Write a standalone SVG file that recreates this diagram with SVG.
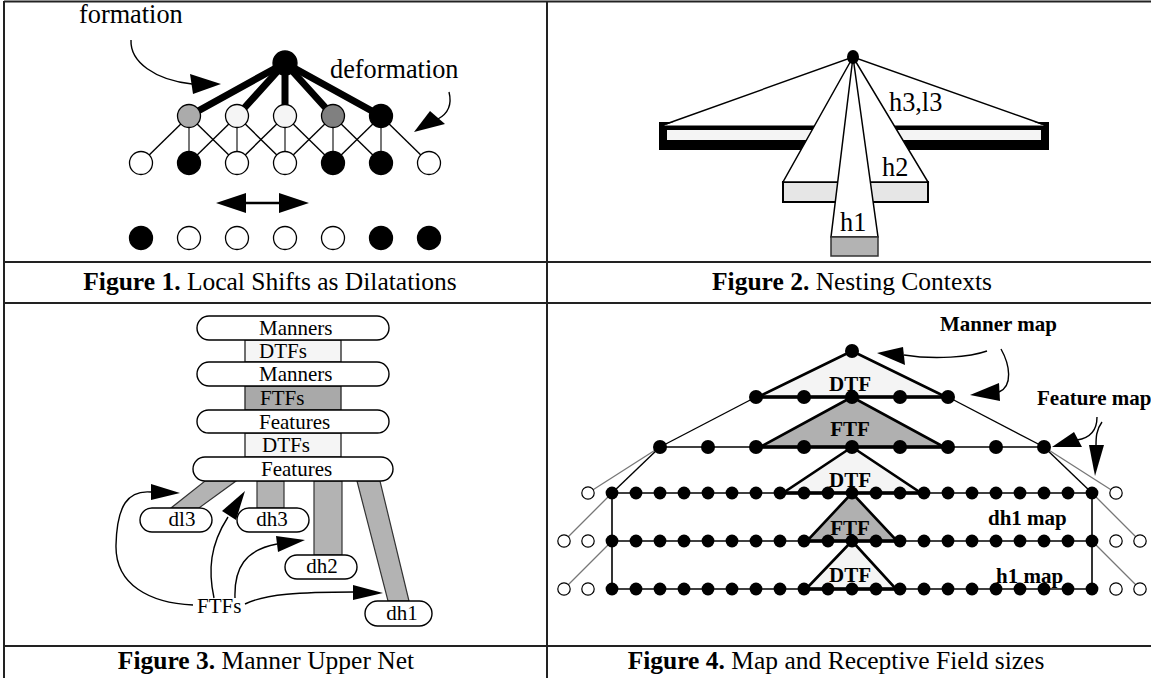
<svg xmlns="http://www.w3.org/2000/svg" xmlns:xlink="http://www.w3.org/1999/xlink" width="1151" height="678" viewBox="0 0 1151 678">
  <style>
    .t { font-family: "Liberation Serif", "Times New Roman", serif; fill: #000; }
    .cap { font-size: 25.5px; }
    .lbl { font-size: 26.3px; }
    .sm { font-size: 21px; }
    .bl { font-size: 21px; font-weight: bold; }
    .b { font-weight: bold; }
    .grid { stroke: #222; stroke-width: 2; fill: none; }
    .thin { stroke: #000; stroke-width: 1.4; fill: none; }
    .gthin { stroke: #777; stroke-width: 1.3; fill: none; }
    .thick { stroke: #000; stroke-width: 7; stroke-linecap: round; }
    .node { stroke: #000; stroke-width: 1.3; }
    .pill { fill: #fff; stroke: #000; stroke-width: 1.4; }
    .bar { fill: #b3b3b3; stroke: #333; stroke-width: 1.2; }
    .head { fill: #000; }
    .tri { stroke: #000; stroke-width: 2.6; stroke-linejoin: miter; }
    .base { stroke: #000; stroke-width: 3.5; }
    .row { stroke: #000; stroke-width: 1.6; }
  </style>
  <defs>
    <circle id="dot" r="7" fill="#000"/>
    <circle id="dot2" r="6.4" fill="#000"/>
    <circle id="hol" r="6.2" fill="#fff" stroke="#000" stroke-width="1.2"/>
  </defs>

  <rect width="1151" height="678" fill="#fff"/>

  <!-- table rules -->
  <g id="table" class="grid">
    <line x1="4" y1="1.5" x2="1151" y2="1.5"/>
    <line x1="4" y1="1" x2="4" y2="678"/>
    <line x1="547" y1="1" x2="547" y2="678"/>
    <line x1="4" y1="262" x2="1151" y2="262"/>
    <line x1="4" y1="303" x2="1151" y2="303"/>
    <line x1="4" y1="646" x2="1151" y2="646"/>
  </g>

  <!-- captions -->
  <g id="captions" class="t cap" text-anchor="middle">
    <text x="270" y="290"><tspan class="b">Figure 1.</tspan> Local Shifts as Dilatations</text>
    <text x="852" y="290"><tspan class="b">Figure 2.</tspan> Nesting Contexts</text>
    <text x="266" y="669"><tspan class="b">Figure 3.</tspan> Manner Upper Net</text>
    <text x="836" y="669"><tspan class="b">Figure 4.</tspan> Map and Receptive Field sizes</text>
  </g>

  <!-- ============ Figure 1 ============ -->
  <g id="fig1">
    <g id="fig1-connectors">
      <g class="thin">
        <line x1="189" y1="116" x2="141" y2="163"/>
        <line x1="189" y1="116" x2="237" y2="163"/>
        <line x1="237" y1="116" x2="189" y2="163"/>
        <line x1="237" y1="116" x2="285" y2="163"/>
        <line x1="285" y1="116" x2="237" y2="163"/>
        <line x1="285" y1="116" x2="333" y2="163"/>
        <line x1="333" y1="116" x2="285" y2="163"/>
        <line x1="333" y1="116" x2="381" y2="163"/>
        <line x1="381" y1="116" x2="333" y2="163"/>
        <line x1="381" y1="116" x2="429" y2="163"/>
      </g>
      <g stroke="#555" stroke-width="1.6">
        <line x1="189" y1="116" x2="189" y2="163"/>
        <line x1="237" y1="116" x2="237" y2="163"/>
        <line x1="285" y1="116" x2="285" y2="163"/>
        <line x1="333" y1="116" x2="333" y2="163"/>
        <line x1="381" y1="116" x2="381" y2="163"/>
      </g>
      <g class="thick">
        <line x1="285" y1="63" x2="189" y2="116"/>
        <line x1="285" y1="63" x2="237" y2="116"/>
        <line x1="285" y1="63" x2="285" y2="116"/>
        <line x1="285" y1="63" x2="333" y2="116"/>
        <line x1="285" y1="63" x2="381" y2="116"/>
      </g>
      <!-- formation / deformation arrows -->
      <path class="thin" d="M131,40 C130,62 155,80 192,84"/>
      <polygon class="head" points="190,74 193,94 221,84"/>
      <path class="thin" d="M449,92 C452,104 449,113 438,119"/>
      <polygon class="head" points="430,111 445,124 414,132"/>
      <!-- shift arrow -->
      <line x1="244" y1="203" x2="281" y2="203" stroke="#000" stroke-width="2.5"/>
      <polygon class="head" points="216,203 246,193 246,213"/>
      <polygon class="head" points="309,203 279,193 279,213"/>
    </g>
    <g id="f1-top"><circle class="node" cx="285" cy="63" r="12" fill="#000"/></g>
    <g id="f1-mid">
      <circle class="node" cx="189" cy="116" r="11.5" fill="#ababab"/>
      <circle class="node" cx="237" cy="116" r="11.5" fill="#f5f5f5"/>
      <circle class="node" cx="285" cy="116" r="11.5" fill="#f5f5f5"/>
      <circle class="node" cx="333" cy="116" r="11.5" fill="#808080"/>
      <circle class="node" cx="381" cy="116" r="11.5" fill="#000"/>
    </g>
    <g id="f1-low">
      <circle class="node" cx="141" cy="163" r="11.5" fill="#fff"/>
      <circle class="node" cx="189" cy="163" r="11.5" fill="#000"/>
      <circle class="node" cx="237" cy="163" r="11.5" fill="#fff"/>
      <circle class="node" cx="285" cy="163" r="11.5" fill="#fff"/>
      <circle class="node" cx="333" cy="163" r="11.5" fill="#000"/>
      <circle class="node" cx="381" cy="163" r="11.5" fill="#000"/>
      <circle class="node" cx="429" cy="163" r="11.5" fill="#fff"/>
    </g>
    <g id="f1-shifted">
      <circle class="node" cx="141" cy="238" r="11.5" fill="#000"/>
      <circle class="node" cx="189" cy="238" r="11.5" fill="#fff"/>
      <circle class="node" cx="237" cy="238" r="11.5" fill="#fff"/>
      <circle class="node" cx="285" cy="238" r="11.5" fill="#fff"/>
      <circle class="node" cx="333" cy="238" r="11.5" fill="#fff"/>
      <circle class="node" cx="381" cy="238" r="11.5" fill="#000"/>
      <circle class="node" cx="429" cy="238" r="11.5" fill="#000"/>
    </g>
    <text class="t lbl" x="79" y="23">formation</text>
    <text class="t lbl" x="330" y="78">deformation</text>
  </g>

  <!-- ============ Figure 2 ============ -->
  <g id="fig2">
    <g id="ctx-h3">
      <rect x="659" y="122" width="390" height="28" fill="#000"/>
      <rect x="667" y="130" width="374" height="10" fill="#f4f4f4"/>
      <polygon points="853,57 664,125.5 1044,125.5" fill="#fff"/>
      <polyline points="666,124 853,57 1042,124" class="thin" stroke-width="1.5"/>
    </g>
    <g id="ctx-h2">
      <rect x="783" y="182" width="145" height="20" fill="#e6e6e6" stroke="#000" stroke-width="2"/>
      <polygon points="853,57 783,182 928,182" fill="#fff" stroke="#000" stroke-width="1.5"/>
    </g>
    <g id="ctx-h1">
      <polygon points="853,57 831,237 878,237" fill="#fff" stroke="#000" stroke-width="1.5"/>
      <rect x="831" y="237" width="47" height="19" fill="#b3b3b3" stroke="#333" stroke-width="1.5"/>
    </g>
    <ellipse cx="853" cy="57" rx="6" ry="7" fill="#000"/>
    <text class="t lbl" x="889" y="111">h3,l3</text>
    <text class="t lbl" x="882" y="176">h2</text>
    <text class="t lbl" x="840" y="231">h1</text>
  </g>

  <!-- ============ Figure 3 ============ -->
  <g id="fig3">
    <g id="fig3-connectors">
      <polygon class="bar" points="205,481 236,481 199,508 171,508"/>
      <rect class="bar" x="257" y="481" width="27" height="27"/>
      <rect class="bar" x="314" y="481" width="28" height="74"/>
      <polygon class="bar" points="357,481 380,481 409,601 388,601"/>
      <path class="thin" d="M193,605 C150,603 115,585 116,545 C117,505 128,490 151,492"/>
      <polygon class="head" points="151,484 151,500 180,493"/>
      <path class="thin" d="M214,598 C208,570 210,545 228,517"/>
      <polygon class="head" points="222,511 236,520 245,491"/>
      <path class="thin" d="M235,598 C234,568 245,550 277,544"/>
      <polygon class="head" points="276,536 278,552 305,540"/>
      <path class="thin" d="M245,604 C265,594 300,592 354,592"/>
      <polygon class="head" points="353,585 353,600 383,593"/>
    </g>
    <g id="n-dtf1"><rect x="245" y="340" width="96" height="22" fill="#f5f5f5" stroke="#333" stroke-width="1.4"/><text class="t sm" x="259" y="358">DTFs</text></g>
    <g id="n-ftf"><rect x="245" y="386" width="96" height="24" fill="#a9a9a9" stroke="#333" stroke-width="1.4"/><text class="t sm" x="260" y="405">FTFs</text></g>
    <g id="n-dtf2"><rect x="245" y="433" width="96" height="24" fill="#f5f5f5" stroke="#333" stroke-width="1.4"/><text class="t sm" x="262" y="452">DTFs</text></g>
    <g id="n-man1"><rect class="pill" x="197" y="316" width="192" height="24" rx="12"/><text class="t sm" x="259" y="335">Manners</text></g>
    <g id="n-man2"><rect class="pill" x="197" y="362" width="192" height="24" rx="12"/><text class="t sm" x="259" y="381">Manners</text></g>
    <g id="n-feat1"><rect class="pill" x="197" y="410" width="192" height="23" rx="11.5"/><text class="t sm" x="259" y="429">Features</text></g>
    <g id="n-feat2"><rect class="pill" x="193" y="457" width="200" height="24" rx="12"/><text class="t sm" x="261" y="476">Features</text></g>
    <g id="n-dl3"><rect class="pill" x="140" y="508" width="72" height="24" rx="12"/><text class="t sm" x="182" y="526" text-anchor="middle">dl3</text></g>
    <g id="n-dh3"><rect class="pill" x="237" y="508" width="72" height="24" rx="12"/><text class="t sm" x="272" y="526" text-anchor="middle">dh3</text></g>
    <g id="n-dh2"><rect class="pill" x="285" y="555" width="72" height="24" rx="12"/><text class="t sm" x="322" y="573" text-anchor="middle">dh2</text></g>
    <g id="n-dh1"><rect class="pill" x="365" y="601" width="67" height="25" rx="12.5"/><text class="t sm" x="402" y="620" text-anchor="middle">dh1</text></g>
    <g id="n-ftfs"><text class="t sm" x="197" y="613">FTFs</text></g>
  </g>

  <!-- ============ Figure 4 ============ -->
  <g id="fig4">
    <g id="fig4-connectors">
      <!-- outer slopes -->
      <line class="thin" x1="756" y1="397" x2="660" y2="447"/>
      <line class="thin" x1="948" y1="397" x2="1044" y2="447"/>
      <line class="thin" x1="660" y1="447" x2="612" y2="493"/>
      <line class="thin" x1="1044" y1="447" x2="1092" y2="493"/>
      <line class="gthin" x1="660" y1="447" x2="588" y2="493"/>
      <line class="gthin" x1="1044" y1="447" x2="1116" y2="493"/>
      <line class="gthin" x1="612" y1="493" x2="564" y2="541"/>
      <line class="gthin" x1="612" y1="541" x2="564" y2="589"/>
      <line class="gthin" x1="1092" y1="493" x2="1140" y2="541"/>
      <line class="gthin" x1="1092" y1="541" x2="1140" y2="589"/>
      <!-- row rails -->
      <line class="row" x1="660" y1="447" x2="1044" y2="447"/>
      <line class="row" x1="612" y1="493" x2="1092" y2="493"/>
      <line class="row" x1="612" y1="541" x2="1092" y2="541"/>
      <line class="row" x1="612" y1="589" x2="1092" y2="589"/>
      <line class="row" x1="612" y1="493" x2="612" y2="589"/>
      <line class="row" x1="1092" y1="493" x2="1092" y2="589"/>
      <!-- receptive fields -->
      <polygon class="tri" points="852,351 758,397 946,397" fill="#f4f4f4"/>
      <polygon class="tri" points="852,397 760,447 944,447" fill="#b0b0b0"/>
      <polygon class="tri" points="852,447 783,493 921,493" fill="#f4f4f4"/>
      <polygon class="tri" points="852,493 807,541 897,541" fill="#b0b0b0"/>
      <polygon class="tri" points="852,541 806,589 896,589" fill="#f4f4f4"/>
      <line class="base" x1="756" y1="397" x2="948" y2="397"/>
      <line class="base" x1="756" y1="447" x2="948" y2="447"/>
      <line class="base" x1="781" y1="493" x2="923" y2="493"/>
      <line class="base" x1="804" y1="541" x2="900" y2="541"/>
      <line class="base" x1="804" y1="589" x2="900" y2="589"/>
      <!-- callout arrows -->
      <path class="thin" d="M987,351 C970,357 935,360 904,355"/>
      <polygon class="head" points="903,347 905,365 877,353"/>
      <path class="thin" d="M1001,349 C1010,365 1013,386 999,392"/>
      <polygon class="head" points="999,383 1000,401 970,395"/>
      <path class="thin" d="M1097,417 C1097,430 1090,438 1077,440"/>
      <polygon class="head" points="1074,432 1082,447 1052,447"/>
      <path class="thin" d="M1102,422 C1096,430 1096,438 1096,446"/>
      <polygon class="head" points="1089,445 1104,445 1095,476"/>
    </g>
    <g id="map-manner">
      <use xlink:href="#dot" x="852" y="351"/>
      <use xlink:href="#dot" x="756" y="397"/><use xlink:href="#dot" x="804" y="397"/><use xlink:href="#dot" x="852" y="397"/><use xlink:href="#dot" x="900" y="397"/><use xlink:href="#dot" x="948" y="397"/>
    </g>
    <g id="map-feature">
      <use xlink:href="#dot" x="660" y="447"/><use xlink:href="#dot" x="708" y="447"/><use xlink:href="#dot" x="756" y="447"/><use xlink:href="#dot" x="804" y="447"/><use xlink:href="#dot" x="852" y="447"/><use xlink:href="#dot" x="900" y="447"/><use xlink:href="#dot" x="948" y="447"/><use xlink:href="#dot" x="996" y="447"/><use xlink:href="#dot" x="1044" y="447"/>
    </g>
    <g id="map-row3">
      <use xlink:href="#hol" x="588" y="493"/><use xlink:href="#hol" x="1116" y="493"/>
      <use xlink:href="#dot2" x="612" y="493"/><use xlink:href="#dot2" x="636" y="493"/><use xlink:href="#dot2" x="660" y="493"/><use xlink:href="#dot2" x="684" y="493"/><use xlink:href="#dot2" x="708" y="493"/><use xlink:href="#dot2" x="732" y="493"/><use xlink:href="#dot2" x="756" y="493"/><use xlink:href="#dot2" x="780" y="493"/><use xlink:href="#dot2" x="804" y="493"/><use xlink:href="#dot2" x="828" y="493"/><use xlink:href="#dot2" x="852" y="493"/><use xlink:href="#dot2" x="876" y="493"/><use xlink:href="#dot2" x="900" y="493"/><use xlink:href="#dot2" x="924" y="493"/><use xlink:href="#dot2" x="948" y="493"/><use xlink:href="#dot2" x="972" y="493"/><use xlink:href="#dot2" x="996" y="493"/><use xlink:href="#dot2" x="1020" y="493"/><use xlink:href="#dot2" x="1044" y="493"/><use xlink:href="#dot2" x="1068" y="493"/><use xlink:href="#dot2" x="1092" y="493"/>
    </g>
    <g id="map-dh1">
      <use xlink:href="#hol" x="564" y="541"/><use xlink:href="#hol" x="588" y="541"/><use xlink:href="#hol" x="1116" y="541"/><use xlink:href="#hol" x="1140" y="541"/>
      <use xlink:href="#dot2" x="612" y="541"/><use xlink:href="#dot2" x="636" y="541"/><use xlink:href="#dot2" x="660" y="541"/><use xlink:href="#dot2" x="684" y="541"/><use xlink:href="#dot2" x="708" y="541"/><use xlink:href="#dot2" x="732" y="541"/><use xlink:href="#dot2" x="756" y="541"/><use xlink:href="#dot2" x="780" y="541"/><use xlink:href="#dot2" x="804" y="541"/><use xlink:href="#dot2" x="828" y="541"/><use xlink:href="#dot2" x="852" y="541"/><use xlink:href="#dot2" x="876" y="541"/><use xlink:href="#dot2" x="900" y="541"/><use xlink:href="#dot2" x="924" y="541"/><use xlink:href="#dot2" x="948" y="541"/><use xlink:href="#dot2" x="972" y="541"/><use xlink:href="#dot2" x="996" y="541"/><use xlink:href="#dot2" x="1020" y="541"/><use xlink:href="#dot2" x="1044" y="541"/><use xlink:href="#dot2" x="1068" y="541"/><use xlink:href="#dot2" x="1092" y="541"/>
    </g>
    <g id="map-h1">
      <use xlink:href="#hol" x="564" y="589"/><use xlink:href="#hol" x="588" y="589"/><use xlink:href="#hol" x="1116" y="589"/><use xlink:href="#hol" x="1140" y="589"/>
      <use xlink:href="#dot2" x="612" y="589"/><use xlink:href="#dot2" x="636" y="589"/><use xlink:href="#dot2" x="660" y="589"/><use xlink:href="#dot2" x="684" y="589"/><use xlink:href="#dot2" x="708" y="589"/><use xlink:href="#dot2" x="732" y="589"/><use xlink:href="#dot2" x="756" y="589"/><use xlink:href="#dot2" x="780" y="589"/><use xlink:href="#dot2" x="804" y="589"/><use xlink:href="#dot2" x="828" y="589"/><use xlink:href="#dot2" x="852" y="589"/><use xlink:href="#dot2" x="876" y="589"/><use xlink:href="#dot2" x="900" y="589"/><use xlink:href="#dot2" x="924" y="589"/><use xlink:href="#dot2" x="948" y="589"/><use xlink:href="#dot2" x="972" y="589"/><use xlink:href="#dot2" x="996" y="589"/><use xlink:href="#dot2" x="1020" y="589"/><use xlink:href="#dot2" x="1044" y="589"/><use xlink:href="#dot2" x="1068" y="589"/><use xlink:href="#dot2" x="1092" y="589"/>
    </g>
    <g id="fig4-labels" class="t bl">
      <text x="850" y="391" text-anchor="middle">DTF</text>
      <text x="850" y="436" text-anchor="middle">FTF</text>
      <text x="850" y="487" text-anchor="middle">DTF</text>
      <text x="850" y="535" text-anchor="middle">FTF</text>
      <text x="850" y="582" text-anchor="middle">DTF</text>
      <text x="940" y="331">Manner map</text>
      <text x="1037" y="405">Feature map</text>
      <text x="988" y="525">dh1 map</text>
      <text x="996" y="583">h1 map</text>
    </g>
  </g>
</svg>
